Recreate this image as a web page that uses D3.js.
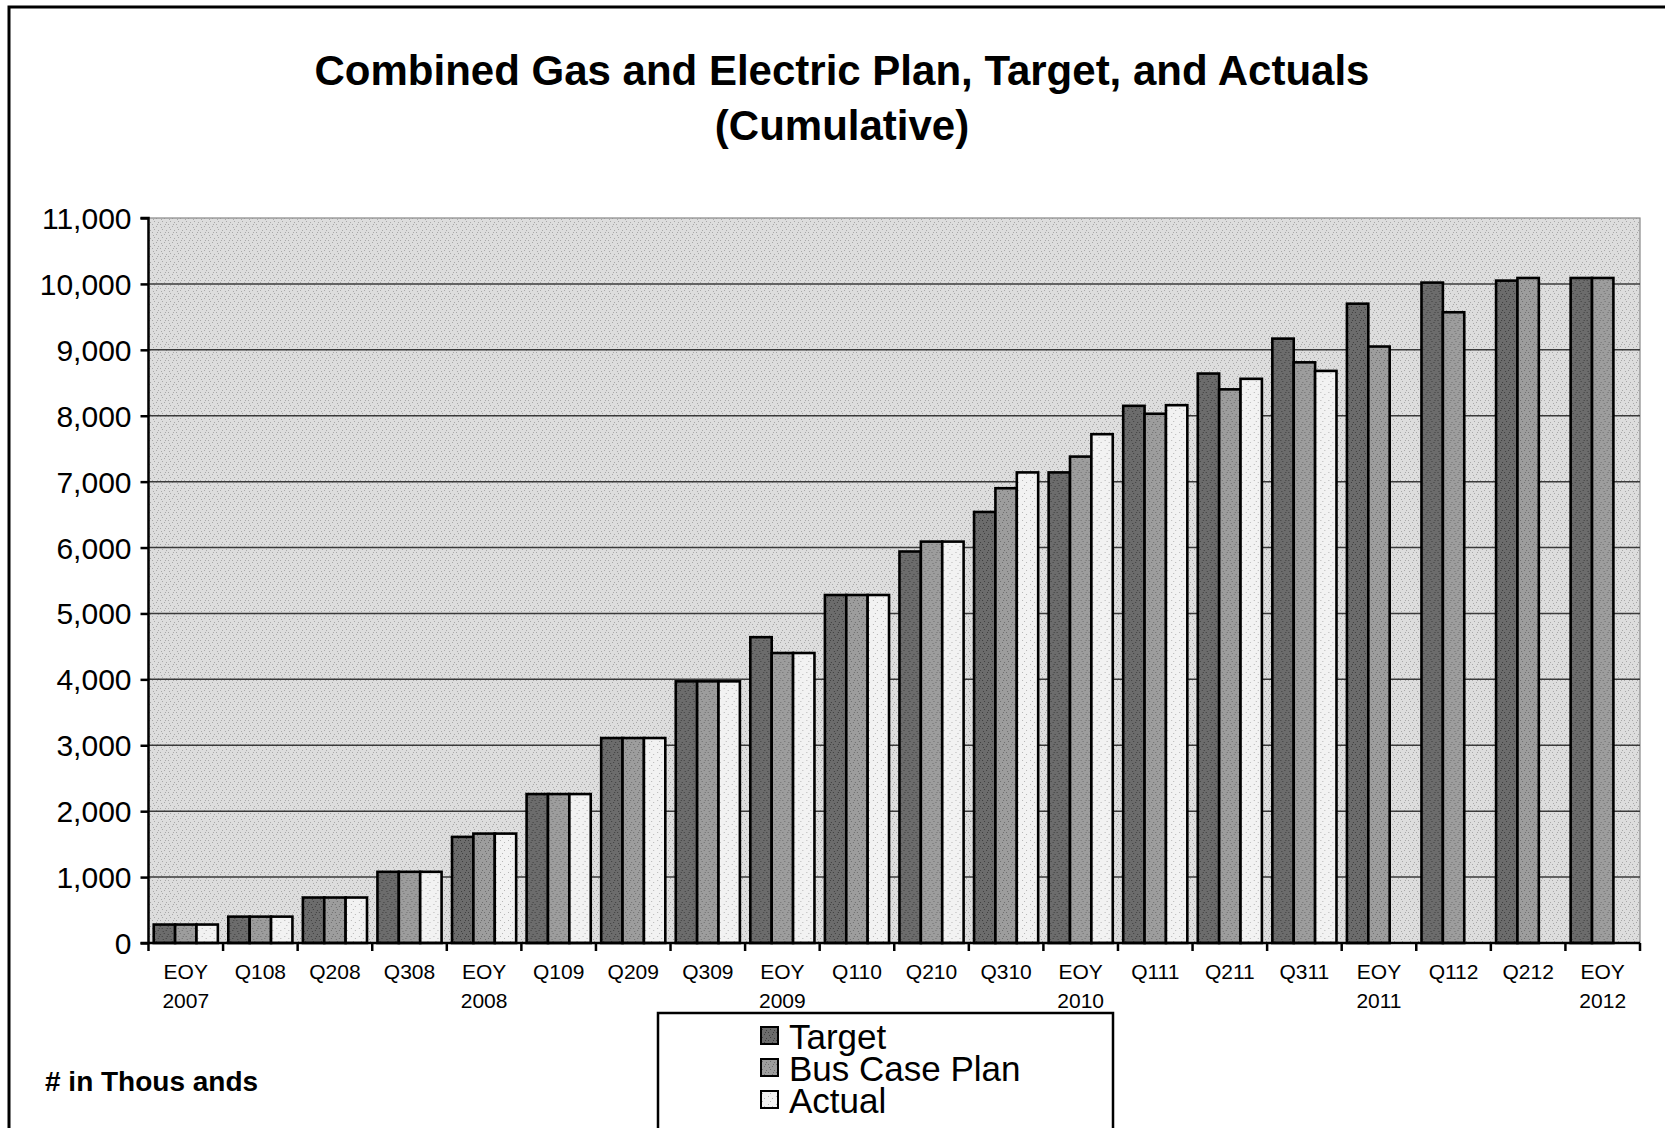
<!DOCTYPE html>
<html>
<head>
<meta charset="utf-8">
<script src="https://cdn.jsdelivr.net/npm/d3@7"></script>
<style>
  html, body { margin: 0; padding: 0; background: #fff; }
  svg { display: block; }
  text { font-family: "Liberation Sans", Arial, sans-serif; fill: #000; }
</style>
</head>
<body>
<svg id="chart" width="1665" height="1128"></svg>
<script>
// ---- Data ----
const categories = ["EOY 2007","Q108","Q208","Q308","EOY 2008","Q109","Q209","Q309","EOY 2009","Q110",
                    "Q210","Q310","EOY 2010","Q111","Q211","Q311","EOY 2011","Q112","Q212","EOY 2012"];
const seriesNames = ["Target", "Bus Case Plan", "Actual"];
const target   = [280, 400, 690, 1080, 1610, 2260, 3110, 3970, 4640, 5280, 5940, 6540, 7140, 8150, 8640, 9170, 9700, 10020, 10050, 10090];
const busCase  = [280, 400, 690, 1080, 1660, 2260, 3110, 3970, 4400, 5280, 6090, 6900, 7380, 8030, 8400, 8810, 9050, 9570, 10090, 10090];
const actual   = [280, 400, 690, 1080, 1660, 2260, 3110, 3970, 4400, 5280, 6090, 7140, 7720, 8160, 8560, 8680, null, null, null, null];
const yTicks   = [0,1000,2000,3000,4000,5000,6000,7000,8000,9000,10000,11000];
const titleLines = ["Combined Gas and Electric Plan, Target, and Actuals", "(Cumulative)"];
const unitNote = "# in Thous ands";

const seriesValues = [target, busCase, actual];

// ---- Layout ----
const svg = d3.select("#chart");
const W = 1665, H = 1128;
const plot = { left: 148.5, right: 1640, top: 218, bottom: 943 };

// patterns for stippled look
const defs = svg.append("defs");
function stipple(id, base, dot, density) {
  const p = defs.append("pattern").attr("id", id).attr("patternUnits", "userSpaceOnUse")
    .attr("width", 8).attr("height", 8);
  p.append("rect").attr("width", 8).attr("height", 8).attr("fill", base);
  const pts = [[0,0],[4,2],[2,5],[6,6],[1,3],[5,0],[3,7],[7,3]].slice(0, density);
  pts.forEach(([x,y]) => p.append("rect").attr("x", x).attr("y", y).attr("width", 1).attr("height", 1).attr("fill", dot));
}
stipple("bgPat", "#dddddd", "#a8a8a8", 6);
stipple("pat0", "#6c6c6c", "#3e3e3e", 6);
stipple("pat1", "#9d9d9d", "#6e6e6e", 6);
stipple("pat2", "#f2f2f2", "#b5b5b5", 3);
const fills = ["url(#pat0)", "url(#pat1)", "url(#pat2)"];

// outer frame
svg.append("rect").attr("x", 9).attr("y", 7).attr("width", W + 20).attr("height", H + 20)
  .attr("fill", "none").attr("stroke", "#000").attr("stroke-width", 3);

// title
svg.append("text").attr("x", 842).attr("y", 85).attr("text-anchor", "middle")
  .attr("font-size", 42).attr("font-weight", "bold").text(titleLines[0]);
svg.append("text").attr("x", 842).attr("y", 140).attr("text-anchor", "middle")
  .attr("font-size", 42).attr("font-weight", "bold").text(titleLines[1]);

// scales
const x0 = d3.scaleBand().domain(categories).range([plot.left, plot.right]).paddingInner(0.14).paddingOuter(0.07);
const x1 = d3.scaleBand().domain(seriesNames).range([0, x0.bandwidth()]).padding(0);
const y = d3.scaleLinear().domain([0, 11000]).range([plot.bottom, plot.top]);

// plot background
svg.append("rect").attr("x", plot.left).attr("y", plot.top)
  .attr("width", plot.right - plot.left).attr("height", plot.bottom - plot.top)
  .attr("fill", "url(#bgPat)").attr("stroke", "#888").attr("stroke-width", 1.2);

// gridlines
svg.append("g").selectAll("line").data(yTicks.filter(d => d > 0 && d < 11000)).join("line")
  .attr("x1", plot.left).attr("x2", plot.right)
  .attr("y1", d => y(d)).attr("y2", d => y(d))
  .attr("stroke", "#3a3a3a").attr("stroke-width", 1.5);

// bars
const groups = svg.append("g").selectAll("g").data(categories).join("g")
  .attr("transform", d => `translate(${x0(d)},0)`);
groups.selectAll("rect").data((c, i) => seriesNames.map((s, k) => ({ s, k, v: seriesValues[k][i] })).filter(d => d.v != null))
  .join("rect")
  .attr("x", d => x1(d.s))
  .attr("y", d => y(d.v))
  .attr("width", x1.bandwidth())
  .attr("height", d => y(0) - y(d.v))
  .attr("fill", d => fills[d.k])
  .attr("stroke", "#000").attr("stroke-width", 2.6);

// y axis
const yAxis = d3.axisLeft(y).tickValues(yTicks).tickSize(8).tickFormat(d3.format(","));
const gy = svg.append("g").attr("transform", `translate(${plot.left},0)`).call(yAxis);
gy.select(".domain").attr("stroke", "#000").attr("stroke-width", 2.5).attr("d", `M-8,${plot.top}H0V${plot.bottom}`);
gy.selectAll(".tick line").attr("stroke", "#000").attr("stroke-width", 2.5);
gy.selectAll(".tick text").attr("font-size", 30).attr("x", -17).attr("dy", "0.35em")
  .style("font-family", "'Liberation Sans', Arial, sans-serif").attr("fill", "#000");

// x axis (ticks at category boundaries)
const gx = svg.append("g");
gx.append("line").attr("x1", plot.left - 8).attr("x2", plot.right)
  .attr("y1", plot.bottom).attr("y2", plot.bottom).attr("stroke", "#000").attr("stroke-width", 2.5);
const step = x0.step();
const boundaries = d3.range(categories.length + 1).map(i => x0(categories[0]) - x0.paddingOuter() * step + i * step);
gx.selectAll("line.tk").data(boundaries).join("line").attr("class", "tk")
  .attr("x1", d => d).attr("x2", d => d)
  .attr("y1", plot.bottom).attr("y2", plot.bottom + 8)
  .attr("stroke", "#000").attr("stroke-width", 2.5);
gx.selectAll("text.xl").data(categories).join("text").attr("class", "xl")
  .attr("x", d => x0(d) + x0.bandwidth() / 2)
  .attr("y", 979)
  .attr("text-anchor", "middle").attr("font-size", 21)
  .each(function(d) {
    const parts = d.split(" ");
    const t = d3.select(this);
    parts.forEach((p, i) => t.append("tspan").attr("x", x0(d) + x0.bandwidth() / 2).attr("dy", i === 0 ? 0 : 29).text(p));
  });

// unit note
svg.append("text").attr("x", 45).attr("y", 1091).attr("font-size", 28).attr("font-weight", "bold").text(unitNote);

// legend
const lg = svg.append("g");
lg.append("rect").attr("x", 658).attr("y", 1013).attr("width", 455).attr("height", 140)
  .attr("fill", "#fff").attr("stroke", "#000").attr("stroke-width", 2.5);
const legendY = [1036, 1068, 1100];
seriesNames.forEach((s, k) => {
  lg.append("rect").attr("x", 761).attr("y", legendY[k] - 9).attr("width", 17).attr("height", 17)
    .attr("fill", fills[k]).attr("stroke", "#000").attr("stroke-width", 2);
  lg.append("text").attr("x", 789).attr("y", legendY[k]).attr("dy", "0.36em")
    .attr("font-size", 35).text(s);
});
</script>
</body>
</html>
